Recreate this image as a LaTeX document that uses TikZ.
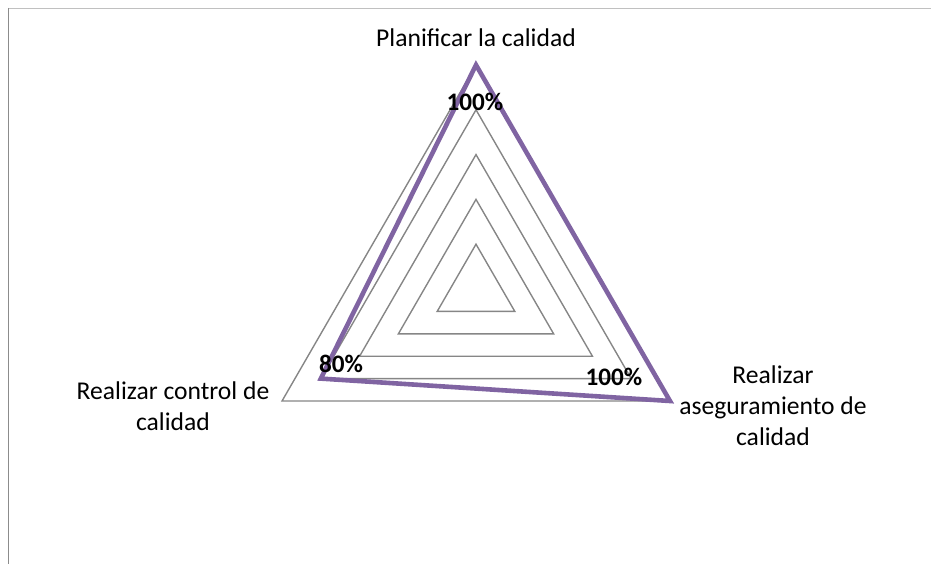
\documentclass[tikz,border=0pt]{standalone}
\usepackage{fontspec}
\setmainfont{Carlito}
\usetikzlibrary{calc}
\definecolor{series}{RGB}{128,100,162}
\definecolor{gridgray}{RGB}{134,134,134}
\definecolor{frametop}{RGB}{192,192,192}
\definecolor{frameleft}{RGB}{140,140,140}
\begin{document}
\begin{tikzpicture}[x=1pt,y=-1pt,
  ring/.style={draw=gridgray,line width=1.4pt,line join=miter},
  seriesline/.style={draw=series,line width=4.6pt,line join=miter},
  datalabel/.style={font=\fontsize{25.2}{28}\selectfont\bfseries,inner sep=0pt},
  catlabel/.style={font=\fontsize{25.6}{31}\selectfont,align=center,inner sep=0pt}]
\useasboundingbox (0,0) rectangle (931,564);
% chart frame
\draw[frametop,line width=1.3pt] (8,8.5) -- (931,8.5);
\draw[frameleft,line width=1.7pt] (8.5,8) -- (8.5,564);
% radar centre; axes point up, lower right and lower left
\coordinate (c) at (476,289);
\def\R{224}
% grid rings at 20% steps
\foreach \k in {1,...,5}{
  \draw[ring] ($(c)+(0,-\k*\R/5)$) -- ($(c)+(0.8660*\k*\R/5,0.5*\k*\R/5)$)
    -- ($(c)+(-0.8660*\k*\R/5,0.5*\k*\R/5)$) -- cycle;
}
% data series: 100%, 100%, 80%
\coordinate (pa) at ($(c)+(0,-\R)$);
\coordinate (pb) at ($(c)+(0.8660*\R,0.5*\R)$);
\coordinate (pc) at ($(c)+(-0.8660*0.8*\R,0.5*0.8*\R)$);
\draw[seriesline] (pa) -- (pb) -- (pc) -- cycle;
% data labels
\node[datalabel] (la) at (475,102) {100\%};
\node[datalabel] (lb) at (614,377) {100\%};
\node[datalabel] (lc) at (341,364) {80\%};
% category labels
\node[catlabel] (ca) at (476,38) {Planificar la calidad};
\node[catlabel] (cb) at (773,406) {Realizar\\aseguramiento de\\calidad};
\node[catlabel] (cc) at (173,406) {Realizar control de\\calidad};
\end{tikzpicture}
\end{document}
